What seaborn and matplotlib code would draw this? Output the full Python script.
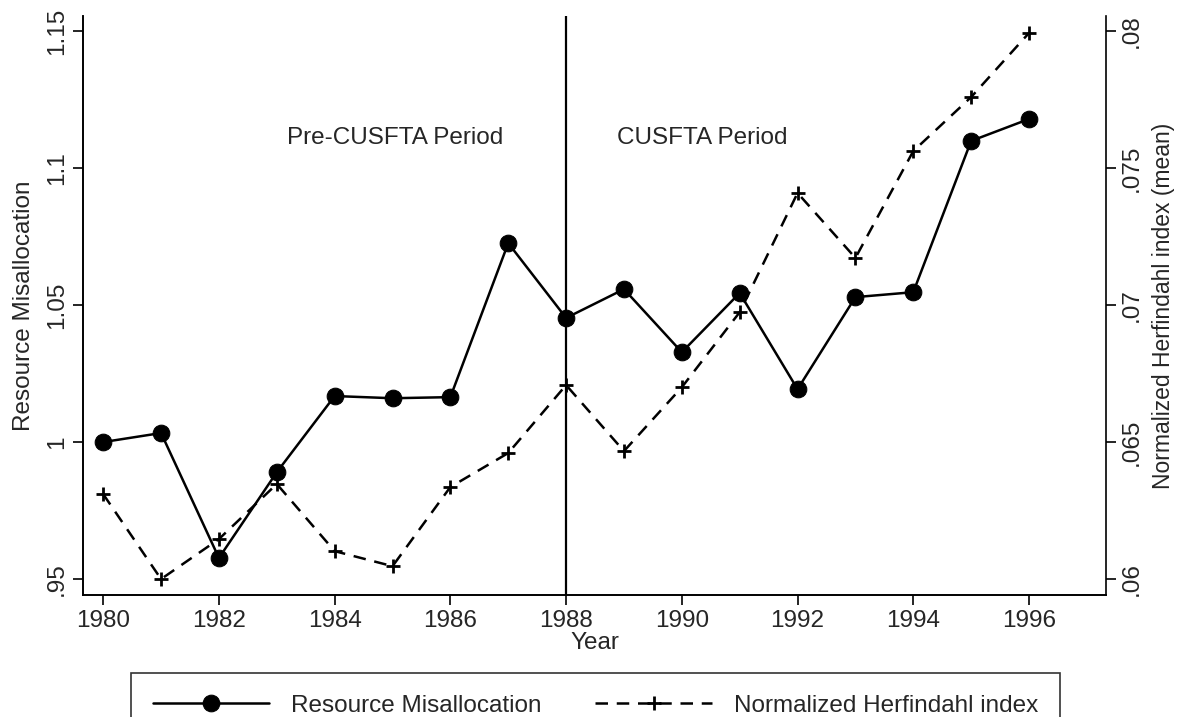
import matplotlib
matplotlib.use("Agg")
import matplotlib.pyplot as plt
import seaborn as sns
import pandas as pd

# data
years = list(range(1980, 1997))
misallocation = [1.000, 1.0033, 0.9577, 0.989, 1.0168, 1.016, 1.0164, 1.0726, 1.0453,
                 1.0558, 1.0328, 1.0544, 1.0193, 1.0529, 1.0547, 1.1099, 1.1179]
herfindahl = [0.0631, 0.0600, 0.06146, 0.06347, 0.06102, 0.06047, 0.06336, 0.0646, 0.06708,
              0.06467, 0.0670, 0.06974, 0.07409, 0.07172, 0.07562, 0.07759, 0.07993]

left_ticks = [0.95, 1.0, 1.05, 1.1, 1.15]
left_labels = [".95", "1", "1.05", "1.1", "1.15"]
right_ticks = [0.06, 0.065, 0.07, 0.075, 0.08]
right_labels = [".06", ".065", ".07", ".075", ".08"]
x_ticks = list(range(1980, 1997, 2))

df = pd.DataFrame({"year": years, "misalloc": misallocation, "herf": herfindahl})

sns.set_style("ticks")
plt.rcParams["font.family"] = ["Liberation Sans", "DejaVu Sans"]
fs = 17.5

fig = plt.figure(figsize=(11.85, 7.17), dpi=100)
ax = fig.add_axes([0.0700, 0.1702, 0.8633, 0.8075])
ax2 = ax.twinx()

sns.lineplot(data=df, x="year", y="misalloc", ax=ax, color="black", linewidth=1.8,
             marker="o", markersize=12, markeredgecolor="black",
             label="Resource Misallocation", legend=False)
sns.lineplot(data=df, x="year", y="herf", ax=ax2, color="black", linewidth=1.8,
             linestyle=(0, (5, 3.5)), marker="+", markersize=10, markeredgewidth=2,
             markeredgecolor="black", label="Normalized Herfindahl index", legend=False)

ax.axvline(1988, color="black", linewidth=1.6)

ax.set_xlim(1979.65, 1997.33)
ax.set_ylim(0.9442, 1.1555)
ax2.set_ylim(0.05942, 0.08055)

ax.set_xticks(x_ticks)
ax.set_xticklabels([str(t) for t in x_ticks], fontsize=fs)
ax.set_yticks(left_ticks)
ax.set_yticklabels(left_labels, fontsize=fs, rotation=90, va="center")
ax2.set_yticks(right_ticks)
ax2.set_yticklabels(right_labels, fontsize=fs, rotation=90, va="center")

ax.tick_params(axis="both", length=7, width=1.2, color="black", pad=4)
ax2.tick_params(axis="y", length=7, width=1.2, color="black", pad=4)

ax.set_xlabel("Year", fontsize=fs, labelpad=0)
ax.set_ylabel("Resource Misallocation", fontsize=fs, labelpad=8)
ax2.set_ylabel("Normalized Herfindahl index (mean)", fontsize=16.5, labelpad=6)

for a in (ax, ax2):
    a.spines["top"].set_visible(False)
    for s in ("left", "bottom", "right"):
        a.spines[s].set_color("black")
        a.spines[s].set_linewidth(1.2)
ax.spines["right"].set_visible(False)

ax.text(1985.05, 1.111, "Pre-CUSFTA Period", fontsize=fs, ha="center", va="center")
ax.text(1990.36, 1.111, "CUSFTA Period", fontsize=fs, ha="center", va="center")

h1, l1 = ax.get_legend_handles_labels()
h2, l2 = ax2.get_legend_handles_labels()
leg = fig.legend(h1 + h2, l1 + l2, loc="upper center", bbox_to_anchor=(0.5025, 0.0614),
                 ncol=2, fontsize=fs, frameon=True, fancybox=False, edgecolor="black",
                 handlelength=4.8, handletextpad=0.9, columnspacing=2.2,
                 borderpad=0.9, borderaxespad=0)
leg.get_frame().set_linewidth(1.2)

fig.savefig("out.png", dpi=100, facecolor="white")
